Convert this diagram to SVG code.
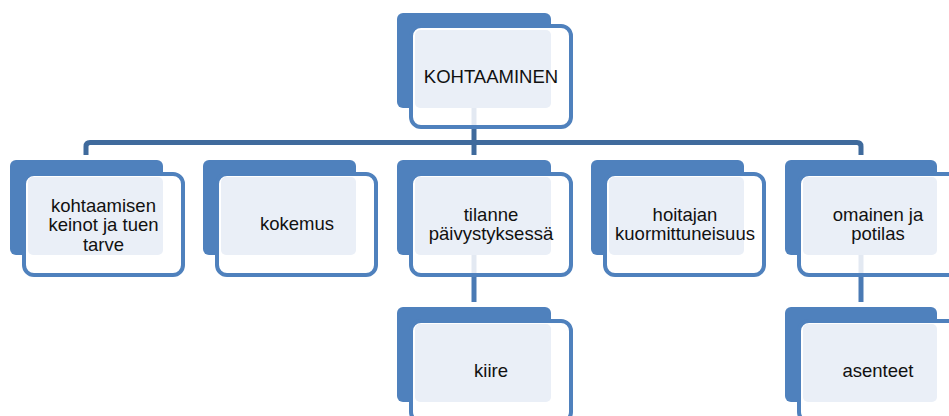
<svg xmlns="http://www.w3.org/2000/svg" width="949" height="416" viewBox="0 0 949 416">
<defs>
<style>
.back{fill:#4F81BD}
.frame{fill:#FFFFFF;stroke:#4F81BD;stroke-width:4}
.pane{fill:#EAEFF7}
.lbl{font-family:"Liberation Sans",Arial,sans-serif;font-size:18.5px;fill:#111111;text-anchor:middle}
.bus{fill:none;stroke:#3F6A9C;stroke-width:5;stroke-linejoin:round}
.link{fill:none;stroke:#4A7AB4;stroke-width:5}
.stub{fill:none;stroke:#E3E9F2;stroke-width:5}
</style>
</defs>
<rect width="949" height="416" fill="#FFFFFF"/>
<g id="connectors">
<path class="bus" d="M86 155 V146.5 Q86 142.5 90 142.5 H857 Q861 142.5 861 146.5 V155"/>
<line class="bus" x1="474" y1="127" x2="474" y2="155"/>
<line class="link" x1="474" y1="277" x2="474" y2="302"/>
<line class="link" x1="861" y1="277" x2="861" y2="302"/>
</g>
<g id="n0">
<rect class="back" x="397" y="13" width="154" height="95" rx="6"/>
<rect class="frame" x="411" y="26" width="160" height="101" rx="10"/>
<rect class="pane" x="415" y="30" width="136" height="78" rx="5"/>
<line class="stub" x1="474" y1="108" x2="474" y2="125"/>
<text class="lbl" x="491" y="83">KOHTAAMINEN</text>
</g>
<g id="n1">
<rect class="back" x="10" y="160" width="153" height="95" rx="6"/>
<rect class="frame" x="24" y="174" width="159" height="101" rx="10"/>
<rect class="pane" x="28" y="177" width="135" height="78" rx="5"/>
<text class="lbl" x="103.5" y="211.5">kohtaamisen</text>
<text class="lbl" x="103.5" y="231">keinot ja tuen</text>
<text class="lbl" x="103.5" y="250.5">tarve</text>
</g>
<g id="n2">
<rect class="back" x="203" y="160" width="153" height="95" rx="6"/>
<rect class="frame" x="217" y="174" width="159" height="101" rx="10"/>
<rect class="pane" x="221" y="177" width="135" height="78" rx="5"/>
<text class="lbl" x="297" y="230">kokemus</text>
</g>
<g id="n3">
<rect class="back" x="397" y="160" width="154" height="95" rx="6"/>
<rect class="frame" x="411" y="174" width="160" height="101" rx="10"/>
<rect class="pane" x="415" y="177" width="136" height="78" rx="5"/>
<line class="stub" x1="474" y1="255" x2="474" y2="273"/>
<text class="lbl" x="491" y="220.5">tilanne</text>
<text class="lbl" x="491" y="240">päivystyksessä</text>
</g>
<g id="n4">
<rect class="back" x="591" y="160" width="153" height="95" rx="6"/>
<rect class="frame" x="605" y="174" width="159" height="101" rx="10"/>
<rect class="pane" x="609" y="177" width="135" height="78" rx="5"/>
<text class="lbl" x="685" y="220.5">hoitajan</text>
<text class="lbl" x="685" y="240">kuormittuneisuus</text>
</g>
<g id="n5">
<rect class="back" x="785" y="160" width="152" height="95" rx="6"/>
<rect class="frame" x="799" y="174" width="159" height="101" rx="10"/>
<rect class="pane" x="803" y="177" width="134" height="78" rx="5"/>
<line class="stub" x1="861" y1="255" x2="861" y2="273"/>
<text class="lbl" x="878" y="220.5">omainen ja</text>
<text class="lbl" x="878" y="240">potilas</text>
</g>
<g id="n6">
<rect class="back" x="397" y="307" width="154" height="95" rx="6"/>
<rect class="frame" x="411" y="321" width="160" height="101" rx="10"/>
<rect class="pane" x="415" y="324" width="136" height="78" rx="5"/>
<text class="lbl" x="491" y="377">kiire</text>
</g>
<g id="n7">
<rect class="back" x="785" y="307" width="152" height="95" rx="6"/>
<rect class="frame" x="799" y="321" width="159" height="101" rx="10"/>
<rect class="pane" x="803" y="324" width="134" height="78" rx="5"/>
<text class="lbl" x="878" y="377">asenteet</text>
</g>
</svg>
